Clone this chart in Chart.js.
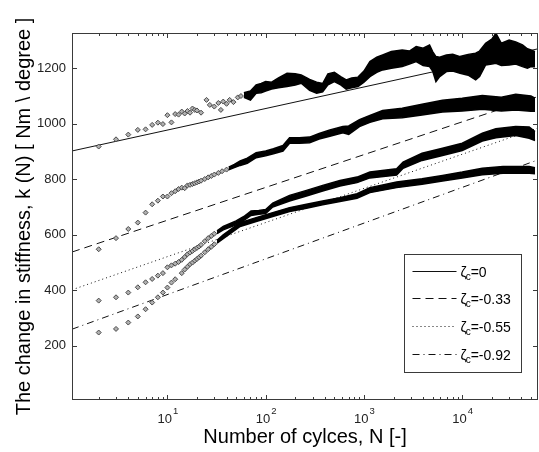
<!DOCTYPE html>
<html>
<head>
<meta charset="utf-8">
<script src="https://cdn.jsdelivr.net/npm/chart.js@4.4.1/dist/chart.umd.min.js"></script>
<style>
  html, body { margin: 0; padding: 0; background: #fff; }
  #wrap { width: 539px; height: 452px; }
</style>
</head>
<body>
<div id="wrap"><canvas id="chart" width="539" height="452"></canvas></div>
<script>
const FONT = "'Liberation Sans', Arial, sans-serif";

// axis ranges and ticks
const X_MIN = 1.07, X_MAX = 59000;
const Y_MIN = 5, Y_MAX = 1327;
const X_TICKS = [10, 100, 1000, 10000];
const X_TICK_EXP = ["1", "2", "3", "4"];
const Y_TICKS = [200, 400, 600, 800, 1000, 1200];

// fitted lines (end points at the axis edges)
const fitN = [1.07, 59000];
const fitK0 = [902, 1270];
const fitK033 = [538, 1098];
const fitK055 = [402, 985];
const fitK092 = [260, 870];
const legendLabels = ["=0", "=-0.33", "=-0.55", "=-0.92"];

// zeta_c = 0 measurements
const aN = [2, 3, 4, 5, 6, 7, 8, 9, 10, 11, 12, 13, 14, 15, 16, 17, 18, 19, 20, 22, 25, 27, 30, 33, 35, 37, 40, 43, 47, 52, 56];
const aK = [918, 944, 961, 978, 980, 996, 1004, 999, 1031, 1005, 1035, 1033, 1044, 1037, 1046, 1040, 1055, 1050, 1048, 1040, 1086, 1068, 1062, 1075, 1050, 1080, 1072, 1086, 1078, 1095, 1100];
const aBandN = [60, 70, 80, 90, 100, 115, 135, 165, 200, 230, 280, 330, 380, 430, 500, 580, 660, 750, 870, 1000, 1150, 1350, 1550, 1900, 2450, 2900, 3400, 4000, 4650, 5000, 5400, 5900, 6900, 8000, 9500, 11500, 13700, 15000, 17300, 20000, 22000, 25000, 30000, 35000, 41000, 46000, 50000, 55000];
const aBandLo = [1095, 1085, 1110, 1112, 1118, 1125, 1130, 1134, 1140, 1146, 1120, 1110, 1115, 1140, 1152, 1140, 1125, 1130, 1134, 1150, 1170, 1185, 1194, 1200, 1206, 1215, 1224, 1210, 1206, 1190, 1152, 1170, 1188, 1190, 1182, 1175, 1158, 1170, 1212, 1215, 1218, 1210, 1212, 1215, 1206, 1200, 1206, 1205];
const aBandHi = [1112, 1118, 1140, 1145, 1152, 1150, 1165, 1182, 1180, 1176, 1160, 1150, 1145, 1180, 1185, 1170, 1158, 1165, 1168, 1190, 1224, 1240, 1248, 1260, 1266, 1262, 1278, 1272, 1284, 1260, 1242, 1240, 1248, 1250, 1242, 1250, 1254, 1262, 1290, 1305, 1326, 1290, 1302, 1295, 1284, 1270, 1266, 1260];

// zeta_c = -0.33 measurements
const bN = [2, 3, 4, 5, 6, 7, 8, 9, 10, 11, 12, 13, 14, 15, 16, 17, 18, 19, 20, 21, 22, 24, 26, 28, 30, 33, 36, 40];
const bK = [548, 588, 621, 644, 680, 710, 723, 738, 738, 750, 757, 765, 770, 768, 778, 780, 783, 786, 789, 792, 795, 801, 807, 812, 817, 823, 829, 835];
const bBandN = [42, 48, 55, 65, 80, 100, 120, 150, 175, 220, 280, 350, 450, 610, 700, 900, 1150, 1550, 2450, 3900, 6300, 10000, 16000, 25000, 35000, 50000, 55000];
const bBandLo = [834, 842, 850, 858, 878, 885, 892, 902, 930, 930, 932, 945, 955, 968, 962, 990, 1005, 1018, 1022, 1032, 1042, 1046, 1052, 1046, 1050, 1045, 1045];
const bBandHi = [844, 854, 866, 876, 896, 902, 910, 922, 950, 950, 952, 965, 978, 990, 992, 1015, 1030, 1048, 1056, 1070, 1085, 1092, 1102, 1096, 1106, 1100, 1092];

// zeta_c = -0.55 measurements
const cN = [2, 3, 4, 5, 6, 7, 8, 9, 10, 11, 12, 13, 14, 15, 16, 17, 18, 19, 20, 21, 22, 24, 26, 28, 30];
const cK = [363, 375, 392, 411, 429, 441, 453, 462, 483, 490, 496, 502, 510, 520, 530, 536, 542, 548, 553, 558, 564, 577, 588, 596, 604];
const cBandN = [32, 37, 50, 60, 71, 85, 100, 118, 175, 260, 380, 570, 850, 1150, 2150, 2500, 3900, 6300, 10000, 16000, 22000, 35000, 48000, 55000];
const cBandLo = [604, 618, 636, 652, 670, 674, 677, 700, 722, 740, 758, 776, 788, 805, 815, 840, 868, 886, 904, 938, 950, 958, 948, 940];
const cBandHi = [614, 630, 650, 666, 686, 688, 691, 714, 742, 760, 778, 796, 808, 826, 838, 862, 894, 912, 930, 966, 982, 990, 988, 972];

// zeta_c = -0.92 measurements
const dN = [2, 3, 4, 5, 6, 7, 8, 9, 10, 11, 12, 14, 15, 16, 17, 18, 19, 20, 21, 22, 24, 26, 28, 30];
const dK = [248, 261, 284, 306, 332, 356, 375, 392, 410, 428, 440, 462, 475, 485, 494, 500, 507, 513, 519, 525, 537, 548, 557, 566];
const dBandN = [32, 37, 55, 80, 118, 175, 260, 380, 570, 850, 1150, 2150, 3900, 6300, 10000, 16000, 26000, 48000, 55000];
const dBandLo = [570, 586, 630, 648, 666, 684, 696, 708, 720, 732, 752, 770, 782, 794, 805, 816, 822, 822, 820];
const dBandHi = [580, 600, 644, 662, 680, 698, 710, 722, 734, 748, 770, 790, 802, 814, 826, 840, 846, 846, 842];

const DASHES = [[], [8, 5], [1, 3], [7, 4, 1, 4]];

function pts(xs, ys) {
  return xs.map((x, i) => ({ x, y: ys[i] }));
}

function markers(xs, ys) {
  return {
    data: pts(xs, ys),
    showLine: false,
    pointStyle: "rectRot",
    pointRadius: 2.5,
    pointHoverRadius: 0,
    pointBorderWidth: 1,
    pointBorderColor: "#4a4a4a",
    pointBackgroundColor: "#b0b0b0",
    order: 1,
  };
}

function bandEdge(xs, ys, fill) {
  return {
    data: pts(xs, ys),
    borderColor: "#000",
    borderWidth: 1.5,
    backgroundColor: "#000",
    pointRadius: 0,
    pointHoverRadius: 0,
    tension: 0,
    fill: fill,
    order: 1,
  };
}

function fitLine(ys, dash) {
  return {
    data: pts(fitN, ys),
    borderColor: "#111",
    borderWidth: 1,
    borderDash: dash,
    pointRadius: 0,
    pointHoverRadius: 0,
    fill: false,
    order: 2,
  };
}

const datasets = [
  bandEdge(aBandN, aBandLo, false), bandEdge(aBandN, aBandHi, "-1"), markers(aN, aK),
  bandEdge(bBandN, bBandLo, false), bandEdge(bBandN, bBandHi, "-1"), markers(bN, bK),
  bandEdge(cBandN, cBandLo, false), bandEdge(cBandN, cBandHi, "-1"), markers(cN, cK),
  bandEdge(dBandN, dBandLo, false), bandEdge(dBandN, dBandHi, "-1"), markers(dN, dK),
  fitLine(fitK0, DASHES[0]), fitLine(fitK033, DASHES[1]),
  fitLine(fitK055, DASHES[2]), fitLine(fitK092, DASHES[3]),
];

function strokeLine(ctx, x1, y1, x2, y2) {
  ctx.beginPath();
  ctx.moveTo(x1, y1);
  ctx.lineTo(x2, y2);
  ctx.stroke();
}

// box, inward ticks, x tick labels with exponents, legend
const matlabFrame = {
  id: "matlabFrame",
  afterDraw(chart) {
    const { ctx, chartArea: a, scales } = chart;
    ctx.save();
    ctx.strokeStyle = "#3a3a3a";
    ctx.lineWidth = 1;
    ctx.setLineDash([]);
    ctx.strokeRect(Math.round(a.left) + 0.5, Math.round(a.top) + 0.5,
      Math.round(a.right - a.left) - 1, Math.round(a.bottom - a.top) - 1);

    for (let e = 0; e <= 4; e++) {
      for (let m = 1; m <= 9; m++) {
        const v = m * Math.pow(10, e);
        if (v < X_MIN || v > X_MAX) continue;
        const px = Math.round(scales.x.getPixelForValue(v)) + 0.5;
        const len = m === 1 ? 5 : 3;
        strokeLine(ctx, px, a.bottom, px, a.bottom - len);
        strokeLine(ctx, px, a.top, px, a.top + len);
      }
    }
    Y_TICKS.forEach((v) => {
      const py = Math.round(scales.y.getPixelForValue(v)) + 0.5;
      strokeLine(ctx, a.left, py, a.left + 5, py);
      strokeLine(ctx, a.right, py, a.right - 5, py);
    });

    ctx.fillStyle = "#222";
    ctx.textBaseline = "alphabetic";
    ctx.textAlign = "left";
    X_TICKS.forEach((v, i) => {
      const px = scales.x.getPixelForValue(v);
      ctx.font = "13px " + FONT;
      const w1 = ctx.measureText("10").width;
      ctx.font = "9.5px " + FONT;
      const w2 = ctx.measureText(X_TICK_EXP[i]).width;
      const x0 = px - (w1 + w2) / 2;
      ctx.font = "13px " + FONT;
      ctx.fillText("10", x0, a.bottom + 23);
      ctx.font = "9.5px " + FONT;
      ctx.fillText(X_TICK_EXP[i], x0 + w1 + 1, a.bottom + 14);
    });

    // legend box
    const bx = Math.round(a.right) - 133.5, by = Math.round(a.bottom) - 145.5;
    const bw = 117, bh = 118;
    ctx.fillStyle = "#fff";
    ctx.fillRect(bx, by, bw, bh);
    ctx.strokeStyle = "#3a3a3a";
    ctx.strokeRect(bx, by, bw, bh);
    legendLabels.forEach((label, i) => {
      const cy = Math.round(by + 16 + i * 27.7) + 0.5;
      ctx.strokeStyle = "#111";
      ctx.setLineDash(DASHES[i]);
      strokeLine(ctx, bx + 8, cy, bx + 52, cy);
      ctx.setLineDash([]);
      ctx.fillStyle = "#000";
      ctx.font = "14px " + FONT;
      const tx = bx + 56;
      ctx.fillText("\u03b6", tx, cy + 5);
      const wz = ctx.measureText("\u03b6").width;
      ctx.font = "10px " + FONT;
      ctx.fillText("c", tx + wz - 1, cy + 8);
      const wc = ctx.measureText("c").width;
      ctx.font = "14px " + FONT;
      ctx.fillText(label, tx + wz + wc - 1, cy + 5);
    });
    ctx.restore();
  },
};

new Chart(document.getElementById("chart"), {
  type: "line",
  data: { datasets },
  options: {
    responsive: false,
    animation: false,
    events: [],
    layout: { autoPadding: false, padding: { top: 33, right: 1, left: 0, bottom: 0 } },
    plugins: {
      legend: { display: false },
      tooltip: { enabled: false },
      filler: { propagate: false },
    },
    scales: {
      x: {
        type: "logarithmic",
        min: X_MIN,
        max: X_MAX,
        grid: { display: false, drawTicks: false },
        border: { display: false },
        ticks: { display: false },
        title: {
          display: true,
          text: "Number of cylces, N [-]",
          color: "#000",
          font: { family: FONT, size: 20 },
          padding: { top: 0, bottom: 3 },
        },
        afterFit: (s) => { s.height = 52; },
      },
      y: {
        type: "linear",
        min: Y_MIN,
        max: Y_MAX,
        grid: { display: false, drawTicks: false },
        border: { display: false },
        afterBuildTicks: (s) => { s.ticks = Y_TICKS.map((v) => ({ value: v })); },
        ticks: {
          padding: 6,
          color: "#222",
          font: { family: FONT, size: 13 },
          callback: (v) => String(v),
        },
        title: {
          display: true,
          text: "The change in stiffness, k (N) [ Nm \\ degree ]",
          color: "#000",
          font: { family: FONT, size: 20 },
          padding: { top: 12, bottom: 0 },
        },
        afterFit: (s) => { s.width = 72; },
      },
    },
  },
  plugins: [matlabFrame],
});
</script>
</body>
</html>
